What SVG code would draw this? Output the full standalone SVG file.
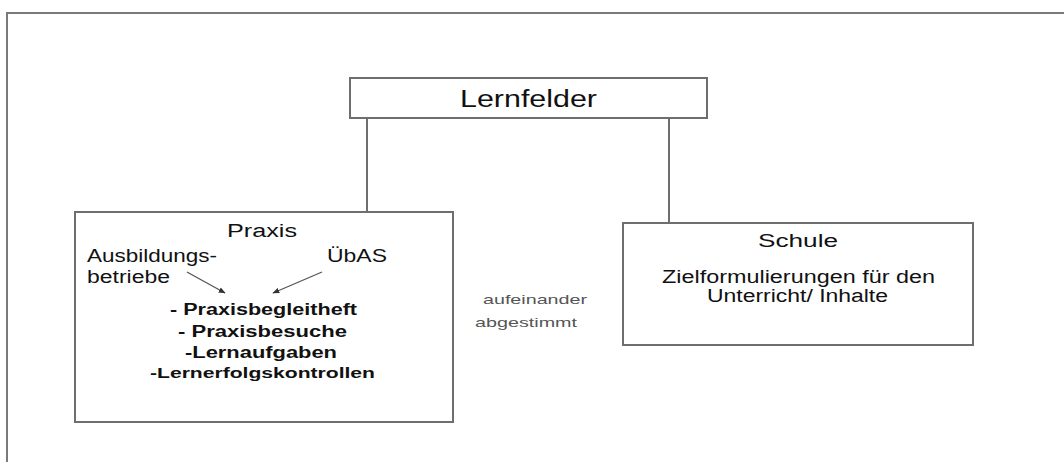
<svg xmlns="http://www.w3.org/2000/svg" width="1064" height="462" viewBox="0 0 1064 462">
<style>
.box{fill:#fff;stroke:#6e6e6e;stroke-width:2}
.frame{fill:none;stroke:#7a7a7a;stroke-width:2}
.conn{stroke:#6e6e6e;stroke-width:2;fill:none}
.arr{stroke:#555;stroke-width:1.3;fill:none}
text{font-family:"Liberation Sans",Arial,sans-serif;fill:#111}
.t1{font-size:23px}
.t2{font-size:18px}
.t3{font-size:16px;font-weight:bold}
.t4{font-size:14px;font-weight:bold}
.t5{font-size:13px;fill:#555}
</style>
<defs>
<marker id="ah" viewBox="0 0 10 10" refX="9" refY="5" markerWidth="7" markerHeight="7" orient="auto" markerUnits="userSpaceOnUse">
<path d="M0,1 L10,5 L0,9 Z" fill="#333"/>
</marker>
</defs>
<rect width="1064" height="462" fill="#fff"/>
<path class="frame" d="M7,462 V13 H1064"/>
<g id="lernfelder">
<rect class="box" x="350" y="78" width="357" height="40"/>
<text class="t1" x="460" y="107" textLength="137" lengthAdjust="spacingAndGlyphs">Lernfelder</text>
</g>
<g id="praxis">
<rect class="box" x="75" y="212" width="378" height="210"/>
<text class="t2" x="227" y="237" textLength="70" lengthAdjust="spacingAndGlyphs">Praxis</text>
<text class="t2" x="87" y="262" textLength="130" lengthAdjust="spacingAndGlyphs">Ausbildungs-</text>
<text class="t2" x="87" y="283" textLength="83" lengthAdjust="spacingAndGlyphs">betriebe</text>
<text class="t2" x="327" y="262" textLength="60" lengthAdjust="spacingAndGlyphs">ÜbAS</text>
<text class="t3" x="170" y="315" textLength="187" lengthAdjust="spacingAndGlyphs">- Praxisbegleitheft</text>
<text class="t3" x="178" y="337" textLength="169" lengthAdjust="spacingAndGlyphs">- Praxisbesuche</text>
<text class="t3" x="185" y="358" textLength="152" lengthAdjust="spacingAndGlyphs">-Lernaufgaben</text>
<text class="t4" x="150" y="378" textLength="225" lengthAdjust="spacingAndGlyphs">-Lernerfolgskontrollen</text>
</g>
<g id="abgestimmt">
<text class="t5" x="483" y="304" textLength="104" lengthAdjust="spacingAndGlyphs">aufeinander</text>
<text class="t5" x="475" y="327" textLength="102" lengthAdjust="spacingAndGlyphs">abgestimmt</text>
</g>
<g id="schule">
<rect class="box" x="623" y="223" width="350" height="122"/>
<text class="t2" x="758" y="247" textLength="80" lengthAdjust="spacingAndGlyphs">Schule</text>
<text class="t2" x="662" y="283" textLength="273" lengthAdjust="spacingAndGlyphs">Zielformulierungen für den</text>
<text class="t2" x="707" y="302" textLength="181" lengthAdjust="spacingAndGlyphs">Unterricht/ Inhalte</text>
</g>
<g id="connectors">
<line class="conn" x1="367" y1="119" x2="367" y2="211"/>
<line class="conn" x1="669" y1="119" x2="669" y2="222"/>
<line class="arr" x1="187" y1="272" x2="225" y2="293" marker-end="url(#ah)"/>
<line class="arr" x1="322" y1="272" x2="273" y2="293" marker-end="url(#ah)"/>
</g>
</svg>
